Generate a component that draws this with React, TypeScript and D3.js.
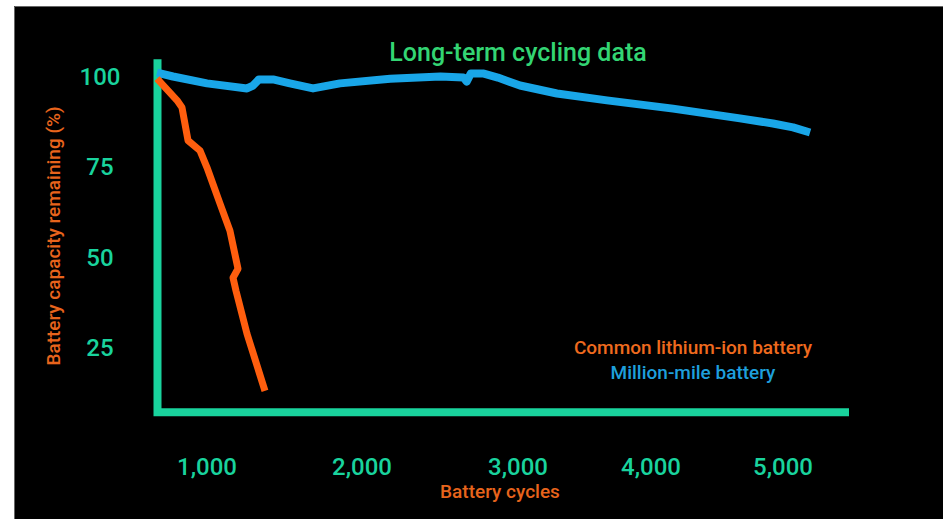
import React, { useEffect, useRef } from "react";
import * as d3 from "d3";

// values
const cycleTicks = [1000, 2000, 3000, 4000, 5000];
const capacityTicks = [25, 50, 75, 100];

const commonCycles = [700, 820, 850, 886, 958, 1000, 1084, 1148, 1200, 1168, 1187, 1258, 1374];
const commonCapacity = [99.4, 93.4, 91.4, 82.3, 79.5, 74.8, 64.8, 57.3, 46.8, 44.3, 40.7, 28.8, 13.0];

const millionCycles = [700, 796, 1000, 1258, 1297, 1335, 1426, 1535, 1684, 1858, 2181, 2503, 2651, 2671, 2697, 2781, 2871, 3015, 3293, 3669, 4167, 4674, 4924, 5076, 5205];
const millionCapacity = [101.1, 100, 98.1, 96.7, 97.5, 99.2, 99.2, 98.1, 96.7, 98.1, 99.4, 100, 99.7, 98.6, 100.8, 100.8, 99.7, 97.5, 95.3, 93.4, 91.1, 88.4, 87.0, 85.9, 84.5];

const seriesNames = ["Common lithium-ion battery", "Million-mile battery"];

export default function App() {
  const chartRef = useRef<SVGSVGElement>(null);

  useEffect(() => {
    document.body.style.margin = "0";
    const svg = d3.select(chartRef.current);
    svg.selectAll("*").remove();

    const width = 943;
    const height = 519;
    const font = "Roboto, 'DejaVu Sans', sans-serif";
    const teal = "#19d39d";
    const orange = "#ff5e0e";
    const blue = "#19a6e8";

    svg.attr("width", width).attr("height", height);

    svg.append("rect").attr("width", width).attr("height", height).attr("fill", "#fff");
    svg.append("rect")
      .attr("x", 14).attr("y", 6)
      .attr("width", width - 14).attr("height", height - 6)
      .attr("fill", "#000");
    svg.append("path")
      .attr("d", `M14.5,${height}V6.5H${width}`)
      .attr("fill", "none")
      .attr("stroke", "#666");

    // the original axis is not evenly spaced, so the scale is piecewise
    const x = d3.scaleLinear()
      .domain([700, 1000, 2000, 3000, 4000, 5000, 5500])
      .range([157, 207, 362, 518, 651, 783, 849]);

    const y = d3.scaleLinear()
      .domain([0, 100])
      .range([437.8, 76.5]);

    const chart = svg.append("g");

    // axis lines
    chart.append("path")
      .attr("d", `M${x(700) + 0.5},${y(104.8)}V${y(7.1)}H${x(5500)}`)
      .attr("fill", "none")
      .attr("stroke", teal)
      .attr("stroke-width", 8)
      .attr("stroke-linejoin", "miter");

    chart.append("g")
      .selectAll("text")
      .data(capacityTicks)
      .join("text")
      .attr("x", 100)
      .attr("y", d => y(d))
      .attr("dy", "0.36em")
      .attr("text-anchor", "middle")
      .attr("fill", teal)
      .attr("font-family", font)
      .attr("font-weight", 500)
      .attr("font-size", 24)
      .text(d => d);

    chart.append("g")
      .selectAll("text")
      .data(cycleTicks)
      .join("text")
      .attr("x", d => x(d))
      .attr("y", 466)
      .attr("dy", "0.36em")
      .attr("text-anchor", "middle")
      .attr("fill", teal)
      .attr("font-family", font)
      .attr("font-weight", 500)
      .attr("font-size", 24)
      .text(d => d3.format(",")(d));

    const line = d3.line<[number, number]>()
      .x(d => x(d[0]))
      .y(d => y(d[1]));

    const millionData = millionCycles.map((c, i) => [c, millionCapacity[i]] as [number, number]);
    const commonData = commonCycles.map((c, i) => [c, commonCapacity[i]] as [number, number]);

    chart.append("path")
      .datum(millionData)
      .attr("d", line)
      .attr("fill", "none")
      .attr("stroke", blue)
      .attr("stroke-width", 8)
      .attr("stroke-linejoin", "round");

    chart.append("path")
      .datum(commonData)
      .attr("d", line)
      .attr("fill", "none")
      .attr("stroke", orange)
      .attr("stroke-width", 7)
      .attr("stroke-linejoin", "round");

    // titles
    svg.append("text")
      .attr("x", 518)
      .attr("y", 52)
      .attr("dy", "0.36em")
      .attr("text-anchor", "middle")
      .attr("fill", "#33d573")
      .attr("font-family", font)
      .attr("font-weight", 500)
      .attr("font-size", 25)
      .text("Long-term cycling data");

    svg.append("text")
      .attr("transform", "translate(53,236) rotate(-90)")
      .attr("dy", "0.36em")
      .attr("text-anchor", "middle")
      .attr("fill", "#e8641c")
      .attr("font-family", font)
      .attr("font-weight", 500)
      .attr("font-size", 19)
      .text("Battery capacity remaining (%)");

    svg.append("text")
      .attr("x", 500)
      .attr("y", 491)
      .attr("dy", "0.36em")
      .attr("text-anchor", "middle")
      .attr("fill", "#e8641c")
      .attr("font-family", font)
      .attr("font-weight", 500)
      .attr("font-size", 19)
      .text("Battery cycles");

    // legend
    svg.append("g")
      .selectAll("text")
      .data(seriesNames)
      .join("text")
      .attr("x", 693)
      .attr("y", (d, i) => 347 + i * 25)
      .attr("dy", "0.36em")
      .attr("text-anchor", "middle")
      .attr("fill", (d, i) => (i === 0 ? "#ef6a1e" : "#1e9fdc"))
      .attr("font-family", font)
      .attr("font-weight", 500)
      .attr("font-size", 19)
      .text(d => d);
  }, []);

  return <svg ref={chartRef} style={{ display: "block" }}></svg>;
}
